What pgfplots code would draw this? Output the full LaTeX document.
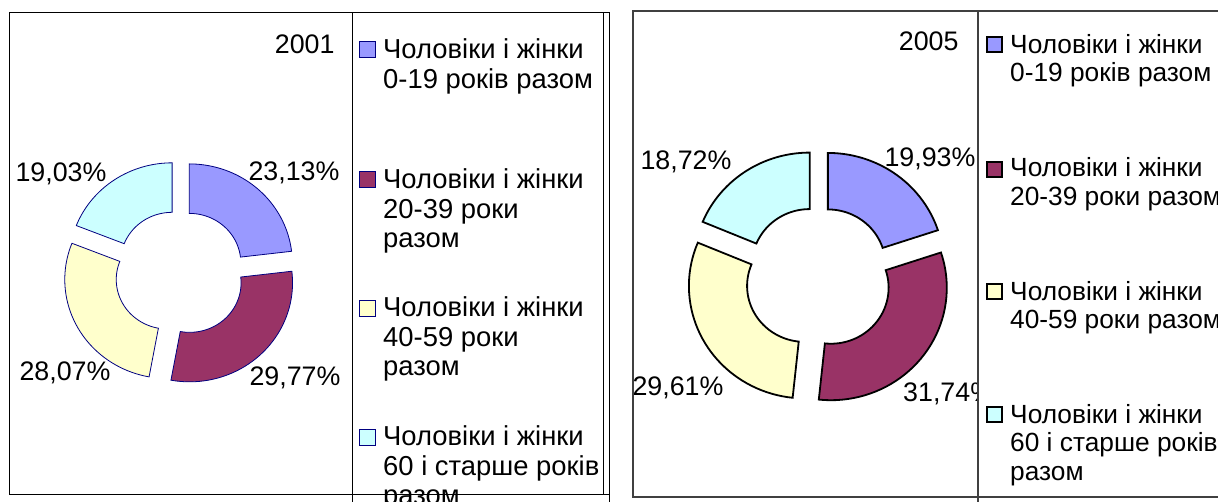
\documentclass[border=0pt]{standalone}
\usepackage{pgfplots}
\pgfplotsset{compat=1.18}
\usepackage{pgfplotstable}
\usepackage{fontspec}
\setmainfont{Liberation Sans}

\definecolor{c0}{HTML}{9999FF}
\definecolor{c1}{HTML}{993366}
\definecolor{c2}{HTML}{FFFFCC}
\definecolor{c3}{HTML}{CCFFFF}
\definecolor{navy}{HTML}{000080}
\definecolor{frameR}{HTML}{404040}

% shares (%) of the four age groups
\pgfplotstableread{
grp value
0 23.13
1 29.77
2 28.07
3 19.03
}\dataA
\pgfplotstableread{
grp value
0 19.93
1 31.74
2 29.61
3 18.72
}\dataB

% #1 table, #2 cx, #3 cy, #4 R, #5 r, #6 explosion offset, #7 x stretch, #8 border style
\newcommand{\donut}[8]{%
  \def\cum{0}%
  \pgfplotsforeachungrouped \i in {0,...,3}{%
    \pgfplotstablegetelem{\i}{value}\of#1%
    \let\v\pgfplotsretval
    \pgfmathsetmacro\sa{90-3.6*\cum}%
    \pgfmathsetmacro\sb{90-3.6*(\cum+\v)}%
    \pgfmathsetmacro\sm{(\sa+\sb)/2}%
    \pgfmathsetmacro\ox{#2+#7*#6*cos(\sm)}%
    \pgfmathsetmacro\oy{#3+#6*sin(\sm)}%
    \pgfmathsetmacro\cum{\cum+\v}%
    \edef\doplot{\noexpand\addplot[fill=c\i, #8, samples at={0,...,81}]
      ({\ox+#7*(x<40.5 ? #4 : #5)*cos(x<40.5 ? \sa+(\sb-\sa)*x/40 : \sb-(\sb-\sa)*(x-41)/40)},
       {\oy+(x<40.5 ? #4 : #5)*sin(x<40.5 ? \sa+(\sb-\sa)*x/40 : \sb-(\sb-\sa)*(x-41)/40)}) -- cycle;}%
    \doplot
  }%
}

\begin{document}
\begin{tikzpicture}[x=1pt,y=1pt,font=\fontsize{26.8}{30}\selectfont]
\begin{axis}[at={(0,0)}, anchor=south west, x=1pt, y=1pt,
  xmin=0, xmax=1218, ymin=0, ymax=502, hide axis, clip=false]
  \donut{\dataA}{180}{229}{99}{49.5}{13.5}{1.04}{draw=navy, line width=0.8pt}
  \donut{\dataB}{818.5}{224}{112.5}{56}{15.5}{1.03}{draw=black, line width=1.8pt}
\end{axis}

% data labels, left chart
\node[anchor=base] at (294,321) {23,13\%};
\node[anchor=base] at (295,116) {29,77\%};
\node[anchor=base] at (65,121) {28,07\%};
\node[anchor=base] at (61,320) {19,03\%};
\node[anchor=base east] at (338,448) {2001};
% data labels, right chart
\node[anchor=base] at (686,332) {18,72\%};
\node[anchor=base] at (930,335) {19,93\%};
\node[anchor=base] at (678,106) {29,61\%};
\node[anchor=base west, inner sep=0pt] at (903,100) {31,74\%};
\node[anchor=base east] at (962,451) {2005};

% legend background of right chart
\fill[white] (979,6) rectangle (1230,490);

% frames, left
\draw[line width=1pt] (9,7) rectangle (603,489);
\draw[line width=1pt] (352,489) -- (352,-5);
\draw[line width=1pt] (603,489) -- (609.5,489) -- (609.5,-5);
\draw[line width=1pt] (603,7) -- (609.5,7);
% frames, right
\draw[line width=1.3pt, frameR] (633,5) rectangle (1230,491);
\draw[line width=1.3pt, frameR] (978,491) -- (978,-5);

% legend, left
\foreach \c/\t in {c0/41, c1/171, c2/300, c3/429}
  \draw[draw=navy, line width=0.8pt, fill=\c] (359,502-\t-16) rectangle +(16,16);
\begin{scope}[every node/.style={anchor=base west, inner sep=0pt}, font=\fontsize{27.4}{30}\selectfont]
\node at (383,502-59) {Чоловіки і жінки};
\node at (383,502-89) {0-19 років разом};
\node at (383,502-189) {Чоловіки і жінки};
\node at (383,502-219) {20-39 роки};
\node at (383,502-248) {разом};
\node at (383,502-317) {Чоловіки і жінки};
\node at (383,502-347) {40-59 роки};
\node at (383,502-376) {разом};
\node at (383,502-446) {Чоловіки і жінки};
\node at (383,502-476) {60 і старше років};
\node at (383,502-505) {разом};
\end{scope}

% legend, right
\foreach \c/\t in {c0/37, c1/162, c2/284, c3/407}
  \draw[draw=black, line width=1.8pt, fill=\c] (987,502-\t-15) rectangle +(15,15);
\begin{scope}[every node/.style={anchor=base west, inner sep=0pt}, font=\fontsize{26.3}{29}\selectfont]
\node at (1010,502-54) {Чоловіки і жінки};
\node at (1010,502-82) {0-19 років разом};
\node at (1010,502-177) {Чоловіки і жінки};
\node at (1010,502-206) {20-39 роки разом};
\node at (1010,502-301) {Чоловіки і жінки};
\node at (1010,502-329) {40-59 роки разом};
\node at (1010,502-424) {Чоловіки і жінки};
\node at (1010,502-452) {60 і старше років};
\node at (1010,502-481) {разом};
\end{scope}

\pgfresetboundingbox
\path[use as bounding box] (0,0) rectangle (1218,502);
\end{tikzpicture}
\end{document}
